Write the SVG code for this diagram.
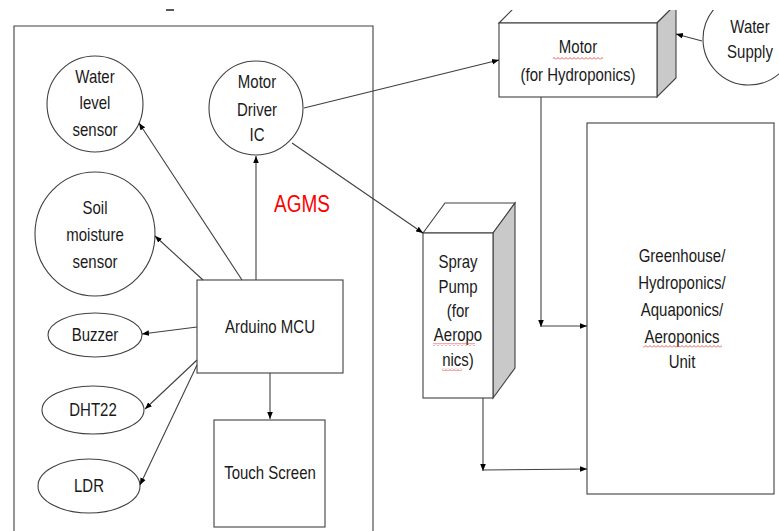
<svg xmlns="http://www.w3.org/2000/svg" width="779" height="531" viewBox="0 0 779 531">
<style>
.ln{fill:none;stroke:#404040;stroke-width:1.1}
.sh{fill:#fff;stroke:#404040;stroke-width:1.1}
.side{fill:#c9c9c9;stroke:#404040;stroke-width:1.1}
.t{font-family:"Liberation Sans",Arial,sans-serif;font-size:15px;fill:#1a1a1a;text-anchor:middle}
.ar{fill:none;stroke:#404040;stroke-width:1.1;marker-end:url(#ah)}
</style>
<defs>
<marker id="ah" viewBox="0 0 10 10" refX="10" refY="5" markerWidth="7" markerHeight="7" orient="auto" markerUnits="userSpaceOnUse"><path d="M0,1 L10,5 L0,9 z" fill="#000"/></marker>
<clipPath id="top"><rect x="0" y="10" width="779" height="521"/></clipPath>
<pattern id="sq" width="4" height="3" patternUnits="userSpaceOnUse"><path d="M0,2.5 L2,0.5 L4,2.5" fill="none" stroke="#e03030" stroke-width="0.8"/></pattern>
</defs>
<rect width="779" height="531" fill="#fff"/>
<g id="agms-frame">
<line x1="166" y1="10" x2="174" y2="10" stroke="#222" stroke-width="1.5"/>
<path class="ln" d="M14,540 L14,26 L373,26 L373,540"/>
<text transform="translate(302,212) scale(1,1.3)" style="font-family:'Liberation Sans',Arial,sans-serif;font-size:19px;fill:#ff0000;text-anchor:middle">AGMS</text>
</g>
<g id="water-level">
<circle class="sh" cx="95" cy="104" r="48"/>
<text class="t" transform="translate(95,83) scale(1,1.2)">Water</text>
<text class="t" transform="translate(95,109) scale(1,1.2)">level</text>
<text class="t" transform="translate(95,136) scale(1,1.2)">sensor</text>
</g>
<g id="motor-driver">
<circle class="sh" cx="256" cy="108" r="47"/>
<text class="t" transform="translate(257,88) scale(1,1.2)">Motor</text>
<text class="t" transform="translate(257,116) scale(1,1.2)">Driver</text>
<text class="t" transform="translate(257,141) scale(1,1.2)">IC</text>
</g>
<g id="soil">
<ellipse class="sh" cx="95" cy="234" rx="60" ry="62"/>
<text class="t" transform="translate(95,214) scale(1,1.2)">Soil</text>
<text class="t" transform="translate(95,241) scale(1,1.2)">moisture</text>
<text class="t" transform="translate(95,268) scale(1,1.2)">sensor</text>
</g>
<g id="buzzer">
<ellipse class="sh" cx="95" cy="335" rx="47" ry="22"/>
<text class="t" transform="translate(95,341) scale(1,1.2)">Buzzer</text>
</g>
<g id="dht22">
<ellipse class="sh" cx="93" cy="410" rx="51" ry="24"/>
<text class="t" transform="translate(93,416) scale(1,1.2)">DHT22</text>
</g>
<g id="ldr">
<ellipse class="sh" cx="89" cy="486" rx="51" ry="27"/>
<text class="t" transform="translate(89,492) scale(1,1.2)">LDR</text>
</g>
<g id="arduino">
<rect class="sh" x="197" y="280" width="146" height="93"/>
<text class="t" transform="translate(270,333) scale(1,1.2)">Arduino MCU</text>
</g>
<g id="touch">
<rect class="sh" x="214" y="420" width="111" height="107"/>
<text class="t" transform="translate(270,479) scale(1,1.2)">Touch Screen</text>
</g>
<g id="motor" clip-path="url(#top)">
<polygon class="sh" points="499,23 518,4 676,4 657,23"/>
<polygon class="side" points="657,23 676,4 676,78 657,97"/>
<rect class="sh" x="499" y="23" width="158" height="74"/>
<text class="t" transform="translate(578,53) scale(1,1.2)">Motor</text>
<text class="t" transform="translate(578,81) scale(1,1.2)">(for Hydroponics)</text>
<rect x="553" y="57" width="50" height="3" fill="url(#sq)"/>
</g>
<g id="water-supply" clip-path="url(#top)">
<circle class="sh" cx="749" cy="39" r="46"/>
<text class="t" transform="translate(750,33) scale(1,1.2)">Water</text>
<text class="t" transform="translate(750,58) scale(1,1.2)">Supply</text>
</g>
<g id="spray-pump">
<polygon class="sh" points="423,233 445,203 515,203 493,233"/>
<polygon class="side" points="493,233 515,203 515,368 493,398"/>
<rect class="sh" x="423" y="233" width="70" height="165"/>
<text class="t" transform="translate(458,268) scale(1,1.2)">Spray</text>
<text class="t" transform="translate(458,293) scale(1,1.2)">Pump</text>
<text class="t" transform="translate(458,317) scale(1,1.2)">(for</text>
<text class="t" transform="translate(458,341) scale(1,1.2)">Aeropo</text>
<text class="t" transform="translate(458,366) scale(1,1.2)">nics)</text>
<rect x="433" y="343" width="42" height="3" fill="url(#sq)"/>
<rect x="442" y="368" width="20" height="3" fill="url(#sq)"/>
</g>
<g id="greenhouse">
<rect class="sh" x="587" y="123" width="187" height="371"/>
<text class="t" transform="translate(682,262) scale(1,1.2)">Greenhouse/</text>
<text class="t" transform="translate(682,289) scale(1,1.2)">Hydroponics/</text>
<text class="t" transform="translate(682,316) scale(1,1.2)">Aquaponics/</text>
<text class="t" transform="translate(682,343) scale(1,1.2)">Aeroponics</text>
<text class="t" transform="translate(682,368) scale(1,1.2)">Unit</text>
<rect x="643" y="345" width="79" height="3" fill="url(#sq)"/>
</g>
<g id="connectors">
<line class="ar" x1="242" y1="280" x2="139" y2="123"/>
<line class="ar" x1="256" y1="280" x2="256" y2="156"/>
<line class="ar" x1="203" y1="280" x2="155" y2="236"/>
<line class="ar" x1="197" y1="327" x2="142" y2="334"/>
<line class="ar" x1="197" y1="360" x2="145" y2="409"/>
<line class="ar" x1="197" y1="365" x2="140" y2="485"/>
<line class="ar" x1="270" y1="373" x2="270" y2="419"/>
<line class="ar" x1="304" y1="108" x2="499" y2="60"/>
<line class="ar" x1="292" y1="143" x2="423" y2="233"/>
<line class="ar" x1="702" y1="41" x2="676" y2="34"/>
<line class="ar" x1="541" y1="97" x2="541" y2="327"/>
<line class="ar" x1="541" y1="326" x2="587" y2="326"/>
<line class="ar" x1="483" y1="398" x2="483" y2="471"/>
<line class="ar" x1="483" y1="470" x2="587" y2="469"/>
</g>
</svg>
